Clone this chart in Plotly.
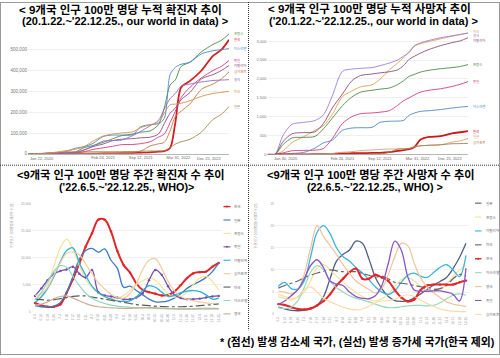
import plotly.graph_objects as go

W, H = 500, 358
def fx(p): return p / W
def fy(p): return 1 - p / H

FONT = "Liberation Sans, Noto Sans CJK KR, sans-serif"
KFONT = "Noto Sans CJK KR, Liberation Sans, sans-serif"

# ---------------- top panels: cumulative per million (our world in data) ----------------
top_dates = ['2020-01-22', '2020-03-01', '2020-04-15', '2020-06-01', '2020-08-01', '2020-10-01',
             '2020-11-15', '2021-01-01', '2021-02-24', '2021-04-15', '2021-06-01', '2021-08-01',
             '2021-09-12', '2021-11-01', '2021-12-15', '2022-01-15', '2022-02-15', '2022-03-15',
             '2022-04-15', '2022-06-01', '2022-08-01', '2022-10-01', '2022-11-15', '2022-12-25']

# cumulative cases per million (thousands)
cases_fr = [0, 0.2, 2, 2.3, 3, 10, 30, 40, 55, 72, 87, 95, 104, 110, 140, 220, 330, 355, 420, 440, 490, 525, 545, 576]
cases_kr = [0, 0.1, 0.2, 0.2, 0.3, 0.5, 0.6, 1.2, 1.7, 2.2, 2.8, 4, 5.2, 7, 10.5, 13, 28, 150, 320, 350, 400, 470, 500, 547]
cases_il = [0, 0.1, 1.4, 2, 9, 27, 35, 50, 83, 90, 90, 92, 130, 140, 145, 170, 380, 415, 430, 440, 480, 495, 500, 505]
cases_de = [0, 0.1, 1.6, 2.2, 2.5, 3.5, 10, 21, 29, 36, 44, 45, 49, 58, 80, 95, 150, 205, 270, 320, 365, 400, 420, 448]
cases_it = [0, 0.1, 2.7, 3.8, 4.1, 5.3, 18, 35, 47, 63, 70, 73, 77, 80, 95, 145, 195, 220, 260, 295, 360, 380, 400, 424]
cases_sg = [0, 0.02, 1, 6, 9, 10, 10, 10, 10, 10.3, 10.6, 11.5, 13, 38, 48, 55, 110, 180, 205, 240, 310, 335, 360, 394]
cases_gb = [0, 0.1, 1.5, 4, 4.5, 7, 20, 37, 61, 64, 66, 88, 108, 135, 160, 215, 265, 290, 325, 335, 345, 352, 354, 356]
cases_us = [0, 0.1, 1.9, 5.4, 14, 22, 34, 61, 85, 95, 100, 106, 126, 139, 151, 195, 235, 239, 243, 255, 276, 290, 295, 300]
cases_jp = [0, 0.01, 0.07, 0.13, 0.3, 0.65, 0.9, 1.8, 3.4, 4, 5.9, 7.5, 12.6, 13.7, 13.7, 14.5, 30, 47, 58, 70, 105, 165, 190, 227]

# cumulative deaths per million
deaths_us = [0, 0.01, 100, 320, 470, 640, 760, 1060, 1530, 1680, 1790, 1845, 1990, 2240, 2420, 2560, 2730, 2870, 2930, 2990, 3060, 3130, 3170, 3220]
deaths_gb = [0, 0.1, 520, 800, 850, 900, 1050, 1550, 2200, 2260, 2280, 2300, 2350, 2420, 2500, 2600, 2700, 2880, 2950, 3020, 3090, 3140, 3180, 3210]
deaths_it = [0, 0.5, 350, 550, 580, 600, 820, 1230, 1600, 1950, 2090, 2130, 2160, 2190, 2240, 2350, 2520, 2600, 2680, 2780, 2880, 2960, 3010, 3090]
deaths_fr = [0, 0.1, 270, 440, 455, 480, 680, 960, 1290, 1520, 1650, 1700, 1730, 1760, 1850, 1950, 2070, 2120, 2180, 2230, 2270, 2300, 2330, 2380]
deaths_de = [0, 0.1, 45, 100, 110, 115, 160, 420, 820, 1000, 1080, 1100, 1120, 1160, 1300, 1420, 1500, 1580, 1650, 1700, 1740, 1800, 1860, 1930]
deaths_il = [0, 0, 10, 30, 55, 170, 310, 380, 640, 700, 710, 720, 850, 880, 885, 900, 1040, 1100, 1140, 1160, 1190, 1230, 1255, 1270]
deaths_kr = [0, 0.2, 4, 5.4, 5.8, 8.1, 9.6, 17, 31, 34, 37, 42, 46, 62, 95, 116, 140, 200, 390, 465, 485, 560, 590, 617]
deaths_jp = [0, 0, 1, 7, 8, 13, 15, 27, 60, 76, 104, 121, 135, 145, 146, 147, 165, 210, 230, 245, 255, 330, 365, 426]
deaths_sg = [0, 0, 2, 4, 5, 5, 5, 5, 5, 5.5, 6, 7, 10, 60, 145, 150, 160, 200, 230, 245, 260, 285, 290, 296]

tl_names = ["프랑스", "한국", "이스라엘", "독일", "이탈리아", "싱가포르", "영국", "미국", "일본"]
tl_series = [cases_fr, cases_kr, cases_il, cases_de, cases_it, cases_sg, cases_gb, cases_us, cases_jp]
tl_colors = ["#4a8a45", "#d41f1f", "#4f86c6", "#d33c7a", "#8e4c7a", "#c07840", "#8a6fc7", "#d89048", "#9e8c50"]

tr_names = ["미국", "영국", "이탈리아", "프랑스", "독일", "이스라엘", "한국", "일본", "싱가포르"]
tr_series = [deaths_us, deaths_gb, deaths_it, deaths_fr, deaths_de, deaths_il, deaths_kr, deaths_jp, deaths_sg]
tr_colors = ["#e0a050", "#9a80d8", "#8e4c7a", "#4a8a45", "#d33c7a", "#4f86c6", "#cc1818", "#d9a27a", "#a67c52"]
tr_label_shift = [1.0, -2.4, -3.0, 0, 0, 0, 0, 2.4, 0.5]

top_tick_vals = ['2021-02-24', '2021-09-12', '2022-03-31']
top_tick_text = ['Feb 24, 2021', 'Sep 12, 2021', 'Mar 31, 2022']

# ---------------- bottom panels: weekly per million (WHO) ----------------
weeks = ['6.5.', '6.12.', '6.19.', '6.26.', '7.3.', '7.10.', '7.17.', '7.24.', '7.31.', '8.7.',
         '8.14.', '8.21.', '8.28.', '9.4.', '9.11.', '9.18.', '9.25.', '10.2.', '10.9.', '10.16.',
         '10.23.', '10.30.', '11.6.', '11.13.', '11.20.', '11.27.', '12.4.', '12.11.', '12.18.', '12.25.']

wc_kr = [1600, 1150, 900, 900, 1300, 3500, 6000, 8900, 12000, 14500, 17000, 17000, 14800, 11200, 8600, 7200, 5200, 4000, 3600, 3300, 3000, 3100, 3700, 4900, 6200, 7100, 7300, 7400, 8300, 9000]
wc_jp = [1100, 900, 850, 1000, 1700, 3600, 6500, 9700, 11300, 11700, 11000, 11600, 9500, 8000, 4500, 4700, 3900, 3100, 2300, 1800, 1800, 2000, 2500, 3300, 4300, 5000, 5600, 6300, 7400, 9000]
wc_fr = [2300, 2900, 4800, 8500, 11800, 13400, 11500, 8500, 6000, 4400, 3400, 2700, 2400, 2500, 3000, 3900, 5000, 5700, 6200, 5800, 4600, 3300, 2700, 2800, 3600, 5000, 6200, 6500, 5600, 4000]
wc_de = [2900, 4300, 5800, 7000, 7500, 7800, 8300, 7000, 6300, 7700, 3600, 3000, 2800, 2600, 2300, 2300, 2600, 3400, 5800, 7700, 6800, 4700, 3100, 2500, 2300, 2300, 2400, 2600, 2800, 2900]
wc_it = [1700, 2700, 4300, 6500, 9200, 11300, 11800, 9000, 6700, 4700, 3500, 2800, 2300, 2000, 1900, 2000, 2700, 3900, 4800, 4500, 3600, 2800, 3000, 3500, 3800, 3900, 3700, 3100, 2300, 2500]
wc_sg = [3000, 3300, 4500, 6800, 9000, 10800, 11000, 10500, 8800, 7000, 5300, 4200, 3200, 2600, 2500, 3300, 5200, 7800, 9500, 9800, 8000, 5600, 3800, 2800, 2300, 2000, 1800, 1600, 1500, 1300]
wc_us = [2300, 2200, 2100, 2200, 2400, 2600, 2800, 2900, 2900, 2700, 2500, 2300, 2100, 1900, 1700, 1500, 1300, 1200, 1100, 1000, 950, 900, 900, 900, 950, 1000, 1100, 1200, 1300, 1450]
wc_il = [2200, 3500, 5500, 7500, 8500, 8200, 6500, 4800, 3400, 2500, 1900, 1500, 1200, 1000, 900, 800, 750, 700, 650, 600, 550, 500, 500, 450, 450, 450, 450, 450, 500, 500]
wc_gb = [1200, 1400, 1800, 2400, 2800, 2900, 2500, 2000, 1500, 1100, 900, 800, 700, 650, 600, 600, 650, 700, 750, 700, 650, 600, 550, 500, 500, 550, 600, 650, 600, 550]

wd_jp = [1.6, 1.2, 0.9, 0.8, 0.9, 1.2, 2.0, 4.0, 8.0, 12.0, 13.5, 14.5, 16.5, 16.0, 12.5, 8.3, 5.8, 4.0, 3.1, 2.9, 3.0, 3.7, 4.6, 5.6, 6.6, 7.4, 8.3, 10.3, 12.8, 16.0]
wd_fr = [4.5, 4.0, 3.6, 3.8, 5.0, 7.5, 10.5, 11.2, 10.0, 8.6, 7.3, 6.0, 5.0, 4.0, 3.3, 3.0, 3.5, 4.6, 6.2, 7.8, 8.3, 7.5, 6.3, 5.3, 5.0, 5.5, 6.8, 8.5, 10.0, 11.0]
wd_it = [6.3, 7.2, 5.8, 5.7, 7.5, 13.0, 18.5, 20.0, 18.2, 15.0, 13.0, 12.0, 10.5, 9.3, 7.8, 6.2, 5.0, 4.5, 5.3, 7.2, 8.8, 9.3, 8.6, 8.3, 9.4, 10.6, 11.2, 10.0, 8.5, 13.3]
wd_us = [5.9, 6.5, 7.0, 7.5, 8.2, 8.8, 9.3, 9.7, 10.0, 9.8, 9.6, 9.6, 9.6, 9.2, 8.8, 8.4, 8.6, 8.0, 7.2, 7.0, 6.8, 6.5, 6.2, 5.8, 5.6, 5.8, 6.5, 8.0, 9.0, 8.6]
wd_kr = [2.3, 2.1, 1.6, 1.2, 1.1, 1.3, 2.0, 3.0, 4.5, 6.5, 8.0, 9.5, 10.3, 8.0, 8.0, 8.9, 8.3, 7.5, 5.5, 3.8, 2.9, 3.3, 5.5, 6.5, 6.7, 6.7, 6.7, 6.7, 7.2, 7.6]
wd_il = [1.5, 1.3, 1.6, 3.0, 6.0, 9.5, 11.0, 10.0, 7.5, 6.0, 5.0, 4.2, 3.6, 3.2, 2.8, 2.3, 1.8, 1.5, 1.5, 1.7, 1.9, 2.0, 2.0, 1.9, 2.0, 2.6, 3.5, 4.3, 4.6, 4.3]
wd_gb = [5.2, 5.0, 4.6, 5.5, 9.0, 15.0, 20.0, 17.5, 15.5, 13.5, 11.2, 9.3, 7.5, 6.5, 5.6, 4.8, 5.8, 9.0, 13.0, 16.0, 15.5, 11.5, 8.2, 6.2, 4.8, 3.8, 2.8, 2.3, 2.0, 1.8]
wd_de = [2.2, 3.0, 4.2, 5.5, 8.0, 11.0, 12.3, 10.5, 7.5, 6.8, 6.5, 5.0, 4.0, 3.6, 3.5, 4.2, 6.5, 11.5, 16.5, 14.5, 8.5, 5.5, 5.2, 5.2, 5.3, 5.3, 5.0, 4.5, 3.0, 10.4]
wd_sg = [4.0, 3.6, 3.2, 4.0, 5.5, 6.2, 5.0, 3.6, 2.8, 2.2, 1.6, 1.2, 1.0, 1.2, 1.8, 2.6, 3.0, 3.1, 3.4, 4.0, 4.4, 4.0, 3.2, 2.4, 1.8, 1.2, 0.9, 0.7, 0.6, 0.6]

bl_names = ["한국", "일본", "프랑스", "독일", "이탈리아", "싱가포르", "미국", "이스라엘", "영국"]
bl_series = [wc_kr, wc_jp, wc_fr, wc_de, wc_it, wc_sg, wc_us, wc_il, wc_gb]
bl_colors = ["#e3262a", "#3f78c0", "#f5e29a", "#7650b0", "#2fb0d8", "#f3cc9e", "#5a5a5a", "#93d8be", "#c9ad96"]
bl_dash = ["solid", "solid", "solid", "solid", "solid", "solid", "dashdot", "solid", "solid"]
bl_width = [2.0, 1.3, 1.2, 1.3, 1.3, 1.2, 1.2, 1.2, 1.2]
bl_marker = [True, False, False, True, False, False, False, False, False]

br_names = ["일본", "프랑스", "이탈리아", "미국", "한국", "이스라엘", "영국", "독일", "싱가포르"]
br_series = [wd_jp, wd_fr, wd_it, wd_us, wd_kr, wd_il, wd_gb, wd_de, wd_sg]
br_colors = ["#4e5f85", "#f5e29a", "#38b4dc", "#666666", "#e3262a", "#9ad8bd", "#efc39c", "#8a55c8", "#f7dcaa"]
br_dash = ["solid", "solid", "solid", "dashdot", "solid", "solid", "solid", "solid", "solid"]
br_width = [1.3, 1.2, 1.3, 1.2, 2.0, 1.2, 1.2, 1.3, 1.2]
br_marker = [False, False, False, False, True, False, False, False, False]

fig = go.Figure()

for name, vals, col in zip(tl_names, tl_series, tl_colors):
    fig.add_trace(go.Scatter(x=top_dates, y=[v * 1000 for v in vals], mode="lines", name=name,
                             line=dict(color=col, width=1.8 if name == "한국" else 0.9, shape="spline", smoothing=0.8),
                             xaxis="x", yaxis="y", hoverinfo="skip"))
for name, vals, col in zip(tr_names, tr_series, tr_colors):
    fig.add_trace(go.Scatter(x=top_dates, y=vals, mode="lines", name=name,
                             line=dict(color=col, width=1.8 if name == "한국" else 0.9, shape="spline", smoothing=0.8),
                             xaxis="x2", yaxis="y2", hoverinfo="skip"))
for name, vals, col, dash, wd, mk in zip(bl_names, bl_series, bl_colors, bl_dash, bl_width, bl_marker):
    fig.add_trace(go.Scatter(x=weeks, y=vals, mode="lines+markers" if mk else "lines", name=name,
                             line=dict(color=col, width=wd, dash=dash, shape="spline", smoothing=1.0),
                             marker=dict(size=2.4, color=col),
                             xaxis="x3", yaxis="y3", hoverinfo="skip"))
for name, vals, col, dash, wd, mk in zip(br_names, br_series, br_colors, br_dash, br_width, br_marker):
    fig.add_trace(go.Scatter(x=weeks, y=vals, mode="lines+markers" if mk else "lines", name=name,
                             line=dict(color=col, width=wd, dash=dash, shape="spline", smoothing=1.0),
                             marker=dict(size=2.4, color=col),
                             xaxis="x4", yaxis="y4", hoverinfo="skip"))

grid_top = "#e4e4e4"
grid_bot = "#e6e6e6"

fig.update_layout(
    width=W, height=H, margin=dict(l=0, r=0, t=0, b=0),
    paper_bgcolor="white", plot_bgcolor="white", showlegend=False,
    font=dict(family=FONT),
    xaxis=dict(domain=[fx(28), fx(229)], type="date", range=[top_dates[0], top_dates[-1]],
               tickvals=top_tick_vals, ticktext=top_tick_text, tickfont=dict(size=4, color="#666"),
               showgrid=False, showline=True, linecolor="#999", linewidth=0.7, ticks="", anchor="y",
               zeroline=False),
    yaxis=dict(domain=[fy(154), fy(27.2)], range=[0, 600000], tickvals=[0, 100000, 200000, 300000, 400000, 500000],
               ticktext=["0", "100,000", "200,000", "300,000", "400,000", "500,000"],
               tickfont=dict(size=4.6, color="#777"), showgrid=True, gridcolor=grid_top, gridwidth=0.6,
               zeroline=False, ticks="", anchor="x", showline=False),
    xaxis2=dict(domain=[fx(267.5), fx(468)], type="date", range=[top_dates[0], top_dates[-1]],
                tickvals=top_tick_vals, ticktext=top_tick_text, tickfont=dict(size=4, color="#666"),
                showgrid=False, showline=True, linecolor="#999", linewidth=0.7, ticks="", anchor="y2",
                zeroline=False),
    yaxis2=dict(domain=[fy(154.7), fy(20.5)], range=[0, 3500], tickvals=[0, 500, 1000, 1500, 2000, 2500, 3000],
                ticktext=["0", "500", "1,000", "1,500", "2,000", "2,500", "3,000"],
                tickfont=dict(size=4, color="#777"), showgrid=True, gridcolor=grid_top, gridwidth=0.6,
                zeroline=False, ticks="", anchor="x2", showline=False),
    xaxis3=dict(domain=[fx(31.8), fx(221.9)], type="category", range=[-0.5, 29.5],
                tickangle=-90, tickfont=dict(size=3.3, color="#999"), showgrid=False, showline=False,
                ticks="", anchor="y3", zeroline=False),
    yaxis3=dict(domain=[fy(314), fy(204.3)], range=[0, 20000], tickvals=[0, 5000, 10000, 15000, 20000],
                ticktext=["0", "5,000", "10,000", "15,000", "20,000"],
                tickfont=dict(size=3.2, color="#999"), showgrid=True, gridcolor=grid_bot, gridwidth=0.6,
                zeroline=False, ticks="", anchor="x3"),
    xaxis4=dict(domain=[fx(275.05), fx(469.2)], type="category", range=[-0.5, 29.5],
                tickangle=-90, tickfont=dict(size=3.3, color="#999"), showgrid=False, showline=False,
                ticks="", anchor="y4", zeroline=False),
    yaxis4=dict(domain=[fy(316.7), fy(204.3)], range=[0, 25], tickvals=[0, 5, 10, 15, 20, 25],
                tickfont=dict(size=3.2, color="#999"), showgrid=True, gridcolor=grid_bot, gridwidth=0.6,
                zeroline=False, ticks="", anchor="x4"),
)

ann = []
def text_at(text, x, y, size, anchor="left", family=FONT, color="black", **kw):
    d = dict(text=text, x=x, y=y, xanchor=anchor, align=anchor if anchor != "center" else "center",
             yanchor="middle", showarrow=False, font=dict(family=family, size=size, color=color))
    d.setdefault("xref", "paper"); d.setdefault("yref", "paper")
    d.update(kw)
    ann.append(d)

# titles (left edges)
text_at("<b>&lt; 9개국 인구 100만 명당 누적 확진자 추이</b>", fx(17), fy(7.5), 11.5)
text_at("<b>(20.1.22.~'22.12.25., our world in data) &gt;</b>", fx(20), fy(19), 11)
text_at("<b>&lt; 9개국 인구 100만 명당 누적 사망자 추이</b>", fx(266), fy(7.5), 11.5)
text_at("<b>('20.1.22.~'22.12.25., our world in data) &gt;</b>", fx(267), fy(19), 11)
text_at("<b>&lt;9개국 인구 100만 명당 주간 확진자 수 추이</b>", fx(15), fy(175), 11.2)
text_at("<b>('22.6.5.~'22.12.25., WHO)&gt;</b>", fx(57), fy(187.5), 10.8)
text_at("<b>&lt;9개국 인구 100만 명당 주간 사망자 수 추이</b>", fx(265), fy(175), 11.2)
text_at("<b>(22.6.5.~'22.12.25., WHO) &gt;</b>", fx(305), fy(187.5), 10.8)

# footnote
text_at("<b>* (점선) 발생 감소세 국가, (실선) 발생 증가세 국가(한국 제외)</b>", fx(497), fy(344.5), 10.8, anchor="right")

# end-of-axis date labels for top panels
for xr, first, sh0, sh1 in (("x", "Jan 22, 2020", 0, -5), ("x2", "Jan 30, 2020", 4.5, -3)):
    text_at(first, top_dates[0], fy(158.8), 4, anchor="left", color="#666", xref=xr, xshift=sh0)
    text_at("Dec 25, 2022", top_dates[-1], fy(158.8), 4, anchor="right", color="#666", xref=xr, xshift=sh1)

# line-end labels (top panels)
LS = 3.4
for name, vals, col in zip(tl_names, tl_series, tl_colors):
    text_at(name, top_dates[-1], vals[-1] * 1000, LS, anchor="left", family=KFONT, color=col,
            xref="x", yref="y", xshift=3)
for name, vals, col, sh in zip(tr_names, tr_series, tr_colors, tr_label_shift):
    text_at(name, top_dates[-1], vals[-1], LS, anchor="left", family=KFONT, color=col,
            xref="x2", yref="y2", xshift=3, yshift=sh)

# y-axis titles bottom panels
ann.append(dict(text="주간 인구 100만명당 확진자 수(명)", x=fx(7), y=fy(252), xref="paper", yref="paper",
                textangle=-90, showarrow=False, font=dict(family=KFONT, size=3.2, color="#999")))
ann.append(dict(text="주간 인구 100만명당 사망자 수(명)", x=fx(255), y=fy(252), xref="paper", yref="paper",
                textangle=-90, showarrow=False, font=dict(family=KFONT, size=3.2, color="#999")))

shapes = []
LF = 3.6
def legend(names, colors, dashes, markers, x0, x1, xt, y0, step):
    for k, (n, c, d, m) in enumerate(zip(names, colors, dashes, markers)):
        yy = y0 + step * k
        shapes.append(dict(type="line", xref="paper", yref="paper", x0=fx(x0), x1=fx(x1), y0=fy(yy), y1=fy(yy),
                           line=dict(color=c, width=1.4 if n == "한국" else 1.1, dash=d)))
        if m:
            cx = (x0 + x1) / 2
            shapes.append(dict(type="circle", xref="paper", yref="paper", x0=fx(cx - 1), x1=fx(cx + 1),
                               y0=fy(yy + 1), y1=fy(yy - 1), line=dict(width=0), fillcolor=c))
        text_at(n, fx(xt), fy(yy), LF, anchor="left", family=KFONT, color="#666")

legend(bl_names, bl_colors, bl_dash, bl_marker, 223.5, 230.5, 232, 207.5, 13.6)
legend(br_names, br_colors, br_dash, br_marker, 475, 481.5, 483.5, 204, 14.1)

dot = dict(color="#333", width=1, dash="1px,1px")
shapes.append(dict(type="line", xref="paper", yref="paper", x0=fx(248.5), x1=fx(248.5), y0=fy(0), y1=fy(333), line=dot))
shapes.append(dict(type="line", xref="paper", yref="paper", x0=0, x1=1, y0=fy(165.5), y1=fy(165.5), line=dot))
shapes.append(dict(type="rect", xref="paper", yref="paper", x0=fx(0.5), x1=fx(499.5), y0=fy(357.5), y1=fy(0.5), line=dot))

fig.update_layout(annotations=ann, shapes=shapes)
# remove the default page margin so the 500x358 figure fills the window exactly; no mode bar
fig.write_html("out.html", config={"displayModeBar": False, "staticPlot": True},
               post_script="document.body.style.margin='0';document.body.style.padding='0';"
                           "document.body.style.overflow='hidden';")
